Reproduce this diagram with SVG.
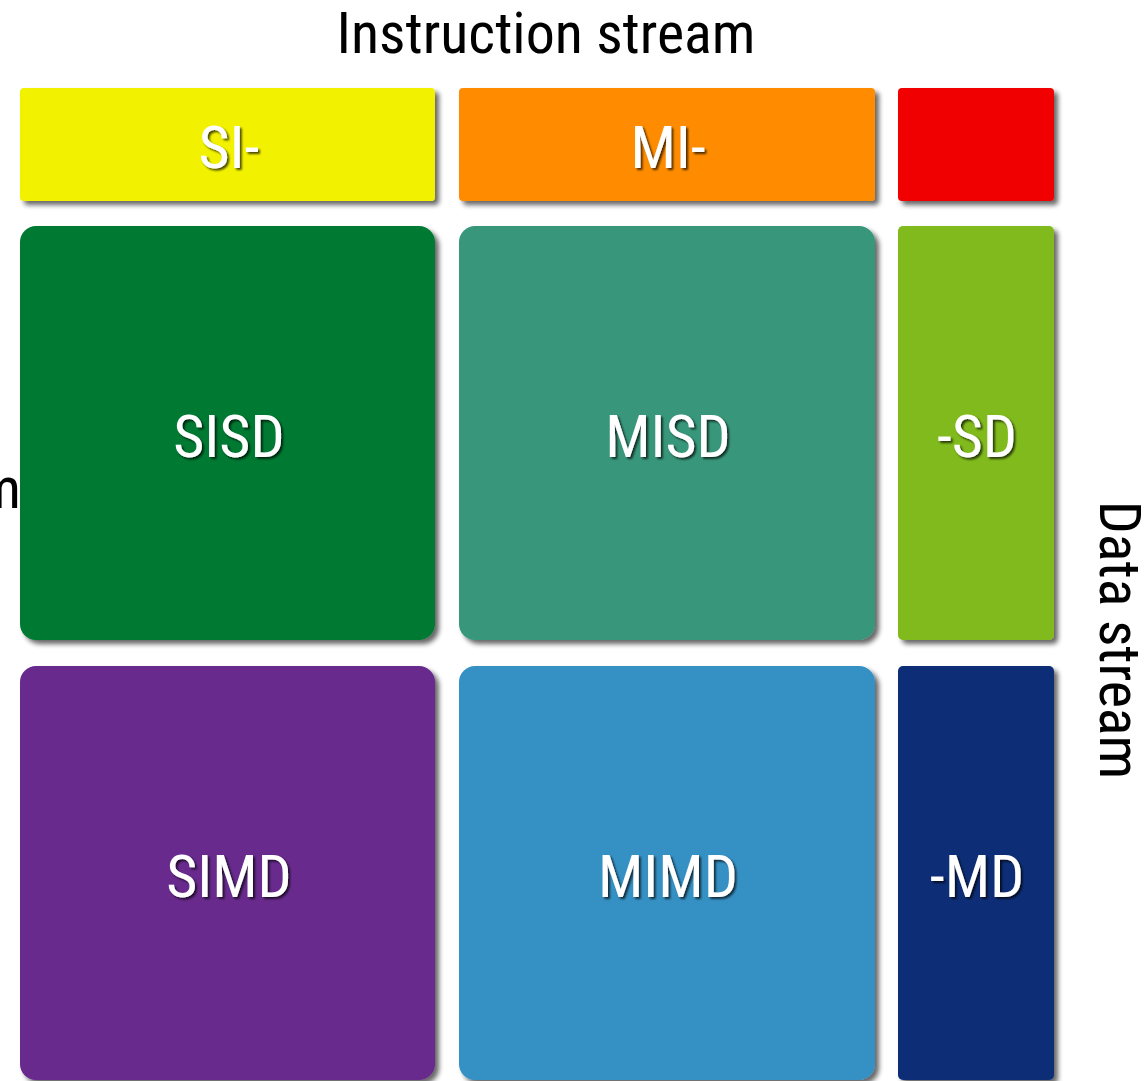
<svg xmlns="http://www.w3.org/2000/svg" width="1147" height="1081" viewBox="0 0 1147 1081">
<defs>
<filter id="sh" x="-10%" y="-10%" width="130%" height="130%">
<feGaussianBlur in="SourceAlpha" stdDeviation="2.5"/>
<feOffset dx="4" dy="4" result="b"/>
<feComponentTransfer><feFuncA type="linear" slope="0.6"/></feComponentTransfer>
<feMerge><feMergeNode/><feMergeNode in="SourceGraphic"/></feMerge>
</filter>
<filter id="tsh" x="-10%" y="-10%" width="130%" height="130%">
<feGaussianBlur in="SourceAlpha" stdDeviation="1"/>
<feOffset dx="2" dy="2"/>
<feComponentTransfer><feFuncA type="linear" slope="0.7"/></feComponentTransfer>
<feMerge><feMergeNode/><feMergeNode in="SourceGraphic"/></feMerge>
</filter>
</defs>
<style>
.t{font-family:"Liberation Sans Narrow","Roboto Condensed","DejaVu Sans Condensed",Roboto,sans-serif;font-stretch:condensed}
.ax{font-size:58px;fill:#000}
.lb{font-size:60px;fill:#fff;text-anchor:middle;filter:url(#tsh)}
.b{filter:url(#sh)}
</style>
<rect width="1147" height="1081" fill="#fff"/>
<text class="t ax" x="21" y="508" text-anchor="end">m</text>
<text class="t ax" x="546" y="53" text-anchor="middle">Instruction stream</text>
<text class="t ax" transform="translate(1100,640) rotate(90)" text-anchor="middle">Data stream</text>
<g id="si"><rect class="b" x="20" y="88" width="415" height="113" rx="4" fill="#F2F200"/><text class="t lb" x="229" y="168">SI-</text></g>
<g id="mi"><rect class="b" x="459" y="88" width="416" height="113" rx="4" fill="#FF8C00"/><text class="t lb" x="668" y="168">MI-</text></g>
<g id="red"><rect class="b" x="898" y="88" width="156" height="113" rx="4" fill="#F00000"/></g>
<g id="sisd"><rect class="b" x="20" y="226" width="415" height="414" rx="16" fill="#007A33"/><text class="t lb" x="229" y="457">SISD</text></g>
<g id="misd"><rect class="b" x="459" y="226" width="416" height="414" rx="16" fill="#37977A"/><text class="t lb" x="668" y="457">MISD</text></g>
<g id="sd"><rect class="b" x="898" y="226" width="156" height="414" rx="5" fill="#80BA1C"/><text class="t lb" x="977" y="457">-SD</text></g>
<g id="simd"><rect class="b" x="20" y="666" width="415" height="414" rx="16" fill="#67298D"/><text class="t lb" x="229" y="897">SIMD</text></g>
<g id="mimd"><rect class="b" x="459" y="666" width="416" height="414" rx="16" fill="#3590C3"/><text class="t lb" x="668" y="897">MIMD</text></g>
<g id="md"><rect class="b" x="898" y="666" width="156" height="414" rx="5" fill="#0A2D77"/><text class="t lb" x="977" y="897">-MD</text></g>
<g id="connectors"/>
</svg>
